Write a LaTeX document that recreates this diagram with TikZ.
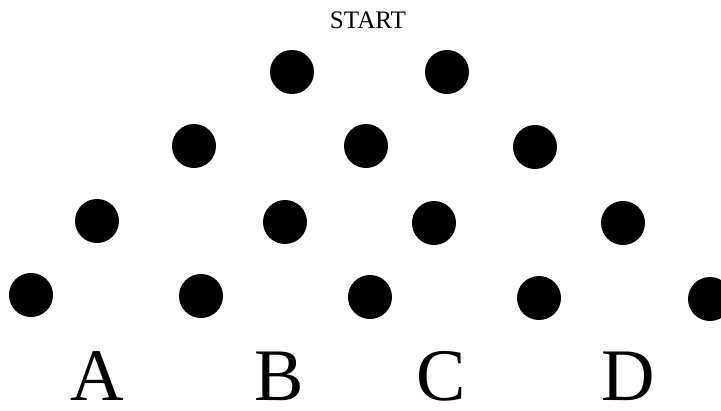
\documentclass[tikz,border=0pt]{standalone}
\usepackage{fontspec}
\setmainfont{Liberation Serif}
\usetikzlibrary{positioning}

\begin{document}
\begin{tikzpicture}[x=0.025cm, y=-0.025cm,
    peg/.style={circle, fill=black, inner sep=0pt, minimum size=1.1cm},
    bin/.style={anchor=base, inner sep=0pt, font=\fontsize{52.7}{56}\selectfont},
    title/.style={anchor=base, inner sep=0pt, font=\fontsize{17.9}{20}\selectfont}]
    \useasboundingbox (0,0) rectangle (721,410);

    % Start label
    \node[title] (start) at (368,28) {START};

    % Row 1
    \node[peg] (p11) at (292,72) {};
    \node[peg] (p12) at (447,72) {};

    % Row 2
    \node[peg] (p21) at (194,146) {};
    \node[peg] (p22) at (366,146) {};
    \node[peg] (p23) at (535,147) {};

    % Row 3
    \node[peg] (p31) at (97,221) {};
    \node[peg] (p32) at (285,222) {};
    \node[peg] (p33) at (434,223) {};
    \node[peg] (p34) at (623,223) {};

    % Row 4 (last peg runs off the right edge)
    \node[peg] (p41) at (31,295) {};
    \node[peg] (p42) at (201,296) {};
    \node[peg] (p43) at (370,297) {};
    \node[peg] (p44) at (539,298) {};
    \begin{scope}
        \clip (0,0) rectangle (721,410);
        \node[peg] (p45) at (710,299) {};
    \end{scope}

    % Bins
    \node[bin] (binA) at (97,400) {A};
    \node[bin] (binB) at (279,400) {B};
    \node[bin] (binC) at (441,400) {C};
    \node[bin] (binD) at (628,400) {D};
\end{tikzpicture}
\end{document}
